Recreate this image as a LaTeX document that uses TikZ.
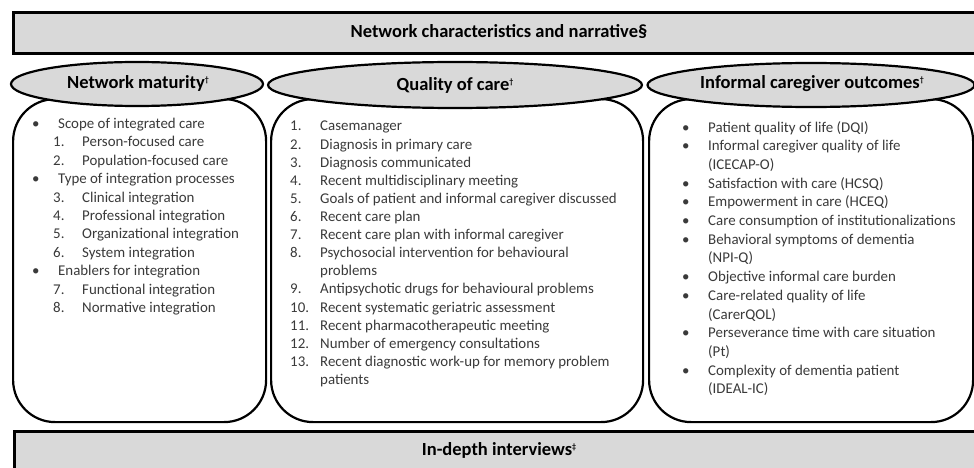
\documentclass[tikz,border=0pt]{standalone}
\usepackage{fontspec}
\setmainfont{Carlito}
\usetikzlibrary{shapes.geometric}
\definecolor{boxgray}{HTML}{D9D9D9}
\definecolor{txtgray}{HTML}{3A3A3A}
\newcommand{\bl}[1]{\makebox[26pt][l]{\textbullet}#1}
\newcommand{\bc}[1]{\hspace{26pt}#1}
\newcommand{\nl}[2]{\hspace{21pt}\makebox[29pt][l]{#1}#2}
\newcommand{\ml}[2]{\makebox[30pt][l]{#1}#2}
\newcommand{\mc}[1]{\hspace{30pt}#1}
\newcommand{\smark}[1]{\raisebox{6pt}{\fontsize{8}{8}\selectfont #1}}
\begin{document}
\begin{tikzpicture}[x=1pt,y=-1pt,
  bar/.style={draw=black,line width=2.6pt,fill=boxgray},
  panel/.style={draw=black,line width=2.2pt,fill=white,rounded corners=42pt},
  head/.style={ellipse,draw=black,line width=2.2pt,fill=boxgray,inner sep=0pt},
  headtext/.style={font=\fontsize{18.5}{20}\selectfont\bfseries,text=black,inner sep=0pt},
  bodytext/.style={font=\fontsize{14.9}{17}\selectfont,text=txtgray,inner sep=0pt,anchor=base west}]
\useasboundingbox (0,0) rectangle (974,468);
\clip (0,0) rectangle (974,468);
\fill[white] (0,0) rectangle (974,468);
% top and bottom bars
\node[bar,minimum width=978pt,minimum height=41pt,anchor=north west] (topbar) at (12,11) {};
\node[headtext] (toptext) at (499,31.5) {Network characteristics and narrative§};
\node[bar,minimum width=978pt,minimum height=50pt,anchor=north west] (botbar) at (13,430) {};
\node[headtext] (bottext) at (499,450) {In-depth interviews\smark{‡}};
% panels
\node[panel,minimum width=253pt,minimum height=323pt,anchor=north west] (p1) at (12,98) {};
\node[panel,minimum width=372pt,minimum height=323pt,anchor=north west] (p2) at (270,98) {};
\node[panel,minimum width=324pt,minimum height=323pt,anchor=north west] (p3) at (648,98) {};
% header ellipses
\node[head,minimum width=252pt,minimum height=44pt] (h1) at (137,84) {};
\node[head,minimum width=374pt,minimum height=46pt] (h2) at (455,85) {};
\node[head,minimum width=327pt,minimum height=44pt] (h3) at (811,85) {};
\node[headtext] (h1t) at (138,83.5) {Network maturity\smark{†}};
\node[headtext] (h2t) at (455,85) {Quality of care\smark{†}};
\node[headtext] (h3t) at (812,84) {Informal caregiver outcomes\smark{†}};
% panel 1 text
\foreach \t [count=\i] in {{\bl{Scope of integrated care}},{\nl{1.}{Person-focused care}},{\nl{2.}{Population-focused care}},{\bl{Type of integration processes}},{\nl{3.}{Clinical integration}},{\nl{4.}{Professional integration}},{\nl{5.}{Organizational integration}},{\nl{6.}{System integration}},{\bl{Enablers for integration}},{\nl{7.}{Functional integration}},{\nl{8.}{Normative integration}}}
  \node[bodytext] (a\i) at (32,{128.5+(\i-1)*18.4}) {\t};
% panel 2 text
\foreach \t [count=\i] in {{\ml{1.}{Casemanager}},{\ml{2.}{Diagnosis in primary care}},{\ml{3.}{Diagnosis communicated}},{\ml{4.}{Recent multidisciplinary meeting}},{\ml{5.}{Goals of patient and informal caregiver discussed}},{\ml{6.}{Recent care plan}},{\ml{7.}{Recent care plan with informal caregiver}},{\ml{8.}{Psychosocial intervention for behavioural}},{\mc{problems}},{\ml{9.}{Antipsychotic drugs for behavioural problems}},{\ml{10.}{Recent systematic geriatric assessment}},{\ml{11.}{Recent pharmacotherapeutic meeting}},{\ml{12.}{Number of emergency consultations}},{\ml{13.}{Recent diagnostic work-up for memory problem}},{\mc{patients}}}
  \node[bodytext] (b\i) at (290,{131+(\i-1)*18.1}) {\t};
% panel 3 text
\foreach \t [count=\i] in {{\bl{Patient quality of life (DQI)}},{\bl{Informal caregiver quality of life}},{\bc{(ICECAP-O)}},{\bl{Satisfaction with care (HCSQ)}},{\bl{Empowerment in care (HCEQ)}},{\bl{Care consumption of institutionalizations}},{\bl{Behavioral symptoms of dementia}},{\bc{(NPI-Q)}},{\bl{Objective informal care burden}},{\bl{Care-related quality of life}},{\bc{(CarerQOL)}},{\bl{Perseverance time with care situation}},{\bc{(Pt)}},{\bl{Complexity of dementia patient}},{\bc{(IDEAL-IC)}}}
  \node[bodytext] (c\i) at (682,{132+(\i-1)*18.7}) {\t};
\end{tikzpicture}
\end{document}
